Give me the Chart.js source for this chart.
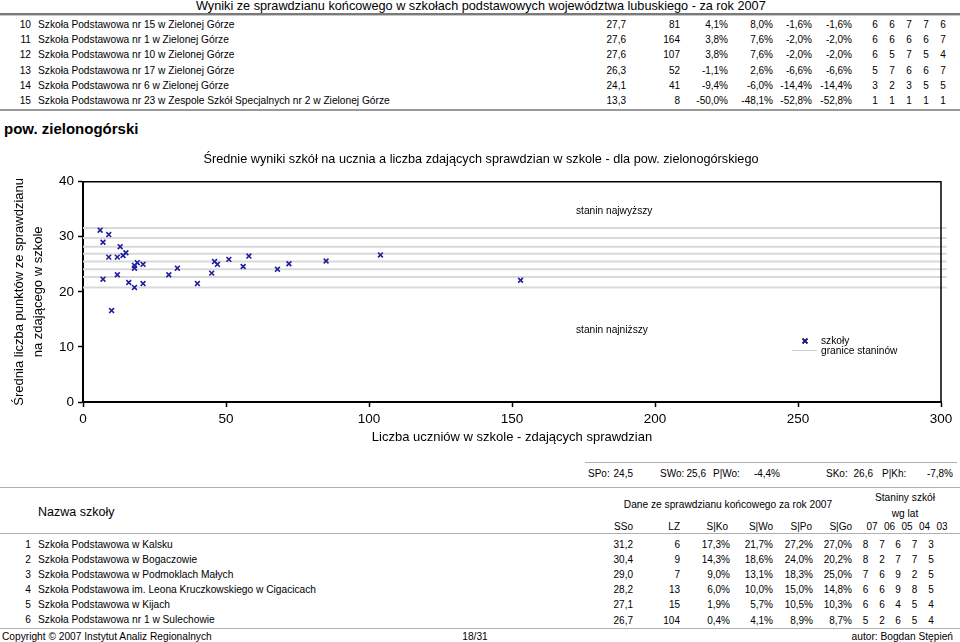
<!DOCTYPE html>
<html>
<head>
<meta charset="utf-8">
<script src="https://cdn.jsdelivr.net/npm/chart.js@4/dist/chart.umd.min.js"></script>
<style>
body { margin: 0; background: #fff; }
#page { position: relative; width: 960px; height: 642px; overflow: hidden; font-family: "Liberation Sans", Arial, sans-serif; color: #000; }
.t { position: absolute; white-space: nowrap; line-height: 1; }
.hr { position: absolute; }
#wrap { position: absolute; left: 0; top: 140px; width: 960px; height: 310px; }
</style>
</head>
<body>
<div id="page">
  <div id="wrap"><canvas id="chart" width="960" height="310"></canvas></div>
</div>
<script>
// scatter: schools of pow. zielonogórski
let LZ  = [6, 9, 7, 13, 15, 104, 9, 12, 14, 18, 19, 21, 18, 7, 12, 16, 18, 21, 10, 30, 33, 40, 45, 46, 47, 51, 56, 58, 68, 72, 85, 153];
let SSO = [31.2, 30.4, 29.0, 28.2, 27.1, 26.7, 26.3, 26.3, 26.6, 24.8, 25.3, 25.0, 24.3, 22.3, 23.1, 21.7, 20.8, 21.5, 16.6, 23.1, 24.3, 21.5, 23.4, 25.5, 25.0, 25.9, 24.6, 26.5, 24.1, 25.1, 25.6, 22.1];
let STANIN = [31.6, 29.8, 28.2, 26.9, 25.5, 24.1, 22.7, 20.8];
let STANIN_X = [0, 302];
let X_TICKS = [0, 300, 50];
let Y_TICKS = [0, 40, 10];

// table above the chart (previous powiat)
let topNr = [10, 11, 12, 13, 14, 15];
let topNames = [
  'Szkoła Podstawowa nr 15 w Zielonej Górze',
  'Szkoła Podstawowa nr 1 w Zielonej Górze',
  'Szkoła Podstawowa nr 10 w Zielonej Górze',
  'Szkoła Podstawowa nr 17 w Zielonej Górze',
  'Szkoła Podstawowa nr 6 w Zielonej Górze',
  'Szkoła Podstawowa nr 23 w Zespole Szkół Specjalnych nr 2 w Zielonej Górze'
];
let topSSo = ['27,7', '27,6', '27,6', '26,3', '24,1', '13,3'];
let topLZ  = ['81', '164', '107', '52', '41', '8'];
let topSKo = ['4,1%', '3,8%', '3,8%', '-1,1%', '-9,4%', '-50,0%'];
let topSWo = ['8,0%', '7,6%', '7,6%', '2,6%', '-6,0%', '-48,1%'];
let topSPo = ['-1,6%', '-2,0%', '-2,0%', '-6,6%', '-14,4%', '-52,8%'];
let topSGo = ['-1,6%', '-2,0%', '-2,0%', '-6,6%', '-14,4%', '-52,8%'];
let topStan = [[6,6,7,7,6], [6,6,6,6,7], [6,5,7,5,4], [5,7,6,6,7], [3,2,3,5,5], [1,1,1,1,1]];

// table below the chart
let botNr = [1, 2, 3, 4, 5, 6];
let botNames = [
  'Szkoła Podstawowa w Kalsku',
  'Szkoła Podstawowa w Bogaczowie',
  'Szkoła Podstawowa w Podmoklach Małych',
  'Szkoła Podstawowa im. Leona Kruczkowskiego w Cigacicach',
  'Szkoła Podstawowa w Kijach',
  'Szkoła Podstawowa nr 1 w Sulechowie'
];
let botSSo = ['31,2', '30,4', '29,0', '28,2', '27,1', '26,7'];
let botLZ  = ['6', '9', '7', '13', '15', '104'];
let botSKo = ['17,3%', '14,3%', '9,0%', '6,0%', '1,9%', '0,4%'];
let botSWo = ['21,7%', '18,6%', '13,1%', '10,0%', '5,7%', '4,1%'];
let botSPo = ['27,2%', '24,0%', '18,3%', '15,0%', '10,5%', '8,9%'];
let botSGo = ['27,0%', '20,2%', '25,0%', '14,8%', '10,3%', '8,7%'];
let botStan = [[8,7,6,7,3], [8,2,7,7,5], [7,6,9,2,5], [6,6,9,8,5], [6,6,4,5,4], [5,2,6,5,4]];
let years = ['07', '06', '05', '04', '03'];

// summary for the powiat
let sumLabels = ['SPo:', 'SWo:', 'P|Wo:', 'SKo:', 'P|Kh:'];
let sumValues = ['24,5', '25,6', '-4,4%', '26,6', '-7,8%'];

const FONT = '"Liberation Sans", Arial, sans-serif';
const BLUE = '#1e1e9e';
const NUM = 10;
const page = document.getElementById('page');

function put(text, x, y, o) {
  o = o || {};
  const d = document.createElement('div');
  const size = o.size || 10.2;
  d.className = 't';
  d.style.fontSize = size + 'px';
  d.style.top = (y - size / 2) + 'px';
  if (o.align == 'right') d.style.right = (960 - x) + 'px';
  else if (o.align == 'center') { d.style.left = x + 'px'; d.style.transform = 'translateX(-50%)'; }
  else d.style.left = x + 'px';
  if (o.bold) d.style.fontWeight = 'bold';
  d.textContent = text;
  page.appendChild(d);
}

function rule(x, y, w, h, color) {
  const d = document.createElement('div');
  d.className = 'hr';
  d.style.left = x + 'px'; d.style.top = y + 'px';
  d.style.width = w + 'px'; d.style.height = h + 'px';
  d.style.background = color;
  page.appendChild(d);
}

function table(rowsY, nr, names, cols, colX, stan, stanX) {
  for (var i = 0; i < nr.length; i++) {
    let y = rowsY[i];
    put(String(nr[i]), 31, y, {align: 'right'});
    put(names[i], 38, y);
    for (var c = 0; c < cols.length; c++) {
      put(cols[c][i], colX[c], y, {align: 'right', size: NUM});
    }
    for (var s = 0; s < 5; s++) {
      put(String(stan[i][s]), stanX[s], y, {align: 'center', size: NUM});
    }
  }
}

// header
put('Wyniki ze sprawdzianu końcowego w szkołach podstawowych województwa lubuskiego - za rok 2007', 196, 6, {size: 12.7});
rule(0, 13, 960, 2, '#7a7a7a');
rule(0, 15, 960, 1, '#c8c8c8');

table([25, 40.2, 55.4, 70.6, 85.8, 101], topNr, topNames,
  [topSSo, topLZ, topSKo, topSWo, topSPo, topSGo],
  [626, 680, 728, 773, 812, 852], topStan, [875, 892, 909, 926, 943]);
rule(0, 109, 960, 2, '#9a9a9a');

put('pow. zielonogórski', 4, 128, {size: 15, bold: true});
put('Średnie wyniki szkół na ucznia a liczba zdających sprawdzian w szkole - dla pow. zielonogórskiego', 481, 159, {size: 12.7, align: 'center'});
put('stanin najwyższy', 576, 211.5);
put('stanin najniższy', 576, 330.5);
put('szkoły', 821, 341);
put('granice staninów', 821, 351);

// summary line
rule(585, 462, 372, 1, '#b0b0b0');
let sumLabelX = [588, 660, 713, 826, 882];
let sumValueX = [633, 706, 780, 873, 953];
for (var m = 0; m < sumLabels.length; m++) {
  put(sumLabels[m], sumLabelX[m], 473.5, {size: NUM});
  put(sumValues[m], sumValueX[m], 473.5, {align: 'right', size: NUM});
}
rule(0, 487, 960, 1, '#b0b0b0');

// lower table header
put('Nazwa szkoły', 38, 512, {size: 12.5});
put('Dane ze sprawdzianu końcowego za rok 2007', 728, 505, {align: 'center'});
put('Staniny szkół', 905, 498, {align: 'center'});
put('wg lat', 905, 514, {align: 'center'});
put('SSo', 633, 526.5, {align: 'right', size: NUM});
put('LZ', 680, 526.5, {align: 'right', size: NUM});
put('S|Ko', 728, 526.5, {align: 'right', size: NUM});
put('S|Wo', 773, 526.5, {align: 'right', size: NUM});
put('S|Po', 812, 526.5, {align: 'right', size: NUM});
put('S|Go', 852, 526.5, {align: 'right', size: NUM});
let yearX = [872, 889.5, 907, 924.5, 942];
for (var k = 0; k < years.length; k++) put(years[k], yearX[k], 526.5, {align: 'center', size: NUM});
rule(0, 533, 960, 1, '#b0b0b0');

table([545, 560.1, 575.2, 590.3, 605.4, 620.5], botNr, botNames,
  [botSSo, botLZ, botSKo, botSWo, botSPo, botSGo],
  [633, 680, 730, 773, 813, 852], botStan, [865.5, 882, 898, 914.5, 931]);
rule(0, 628, 960, 1, '#b0b0b0');

put('Copyright © 2007 Instytut Analiz Regionalnych', 2, 637);
put('18/31', 475, 637, {align: 'center'});
put('autor: Bogdan Stępień', 953, 637, {align: 'right'});

// chart
const boxPlugin = {
  id: 'box',
  afterDatasetsDraw(chart) {
    const a = chart.chartArea;
    const c = chart.ctx;
    c.save();
    c.strokeStyle = '#000';
    c.lineWidth = 1.5;
    c.beginPath();
    c.moveTo(a.left, a.top);
    c.lineTo(a.right, a.top);
    c.lineTo(a.right, a.bottom);
    c.stroke();
    // legend sample
    Chart.helpers.drawPoint(c, {pointStyle: 'crossRot', radius: 3.4, borderWidth: 1.6}, 805, 341 - 140);
    c.strokeStyle = BLUE;
    c.lineWidth = 1.6;
    c.stroke();
    c.strokeStyle = '#cfcfcf';
    c.lineWidth = 1;
    c.beginPath();
    c.moveTo(792, 350.5 - 140);
    c.lineTo(817, 350.5 - 140);
    c.stroke();
    c.restore();
  }
};

let datasets = [{
  label: 'szkoły',
  data: LZ.map((x, i) => ({x: x, y: SSO[i]})),
  pointStyle: 'crossRot',
  pointRadius: 3.4,
  pointBorderWidth: 1.6,
  pointBorderColor: BLUE,
  pointBackgroundColor: BLUE,
  order: 0
}];
STANIN.forEach(v => {
  datasets.push({
    type: 'line',
    label: 'granice staninów',
    data: [{x: STANIN_X[0], y: v}, {x: STANIN_X[1], y: v}],
    borderColor: '#d9d9d9',
    borderWidth: 2,
    pointRadius: 0,
    clip: false,
    order: 1
  });
});

new Chart(document.getElementById('chart'), {
  type: 'scatter',
  data: {datasets: datasets},
  options: {
    responsive: false,
    animation: false,
    layout: {padding: {top: 41.7, right: 19, left: 0, bottom: 0}},
    plugins: {legend: {display: false}, tooltip: {enabled: false}},
    scales: {
      x: {
        type: 'linear', min: X_TICKS[0], max: X_TICKS[1],
        ticks: {stepSize: X_TICKS[2], color: '#000', font: {size: 13.5, family: FONT}, padding: 4},
        grid: {drawOnChartArea: false, color: '#000', tickLength: 5, tickWidth: 1.5},
        border: {color: '#000', width: 2},
        title: {display: true, text: 'Liczba uczniów w szkole - zdających sprawdzian', color: '#000',
                font: {size: 13, family: FONT, lineHeight: 1.45}, padding: {top: 0, bottom: 3.6}},
        afterFit: s => { s.height = 48; }
      },
      y: {
        min: Y_TICKS[0], max: Y_TICKS[1],
        ticks: {stepSize: Y_TICKS[2], color: '#000', font: {size: 13.5, family: FONT}, padding: 4},
        grid: {drawOnChartArea: false, color: '#000', tickLength: 5, tickWidth: 1.5},
        border: {color: '#000', width: 2},
        title: {display: true, text: ['Średnia liczba punktów ze sprawdzianu', 'na zdającego w szkole'], color: '#000',
                font: {size: 13, family: FONT, lineHeight: 1.45}, padding: {top: 10, bottom: 0}},
        afterFit: s => { s.width = 83; }
      }
    }
  },
  plugins: [boxPlugin]
});
</script>
</body>
</html>
